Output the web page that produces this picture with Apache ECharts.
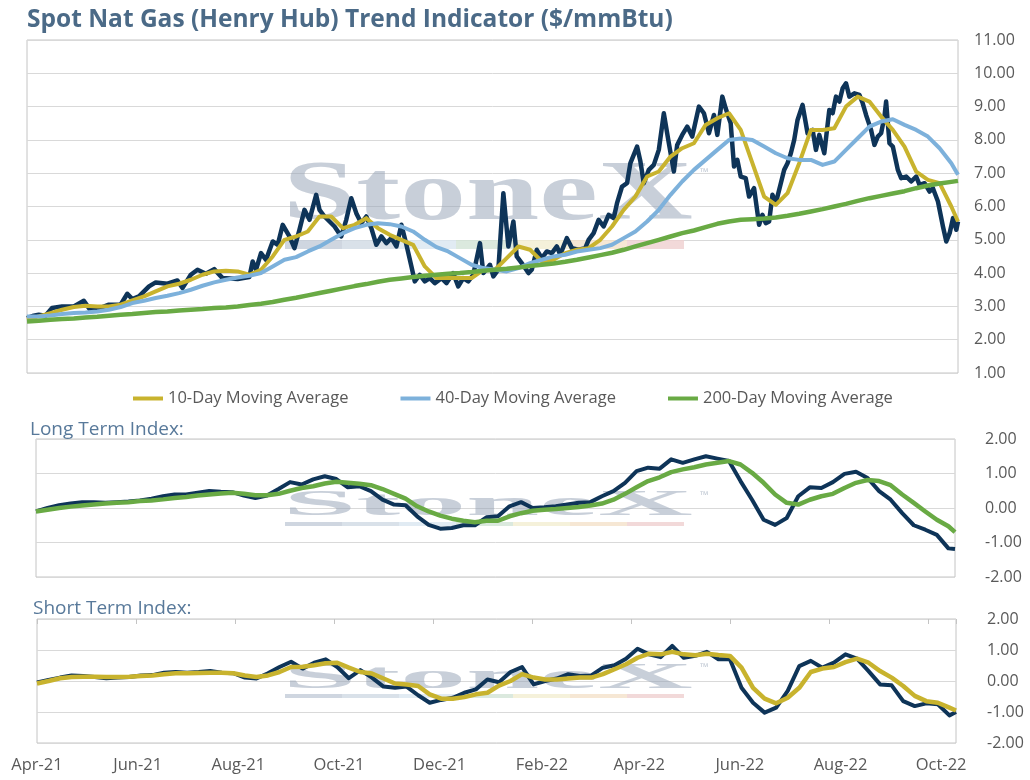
<!DOCTYPE html>
<html><head><meta charset="utf-8">
<script src="https://cdn.jsdelivr.net/npm/echarts@6/dist/echarts.min.js"></script>
<style>html,body{margin:0;padding:0;background:#fff}#c{width:1030px;height:780px}</style>
</head><body><div id="c"></div>
<script>
// x positions are days since 1 Apr 2021
const monthTickDays = [0,61,122,183,244,306,365,426,487,548];
const monthTickLabels = ['Apr-21','Jun-21','Aug-21','Oct-21','Dec-21','Feb-22','Apr-22','Jun-22','Aug-22','Oct-22'];
const lastDay = 557;

const spotDays = [0,4,7,11,15,21,28,34,38,42,49,56,60,63,67,73,77,84,90,93,98,102,107,112,117,126,133,135,137,140,143,147,150,153,157,160,163,166,169,173,175,178,181,184,188,191,194,197,200,203,206,209,212,215,218,221,224,227,230,232,235,238,241,244,248,251,255,258,261,264,267,271,273,277,279,282,285,288,291,293,296,300,302,305,308,311,314,317,319,323,326,330,334,336,339,342,345,348,351,353,356,359,361,365,367,369,372,375,378,381,384,387,389,392,395,398,402,405,408,411,413,416,418,421,423,425,427,430,432,435,438,440,442,444,446,448,451,453,455,457,459,461,464,467,470,472,474,477,480,482,484,486,488,490,492,495,498,500,502,505,507,509,511,513,514,516,518,521,523,526,529,532,534,537,540,542,545,548,550,552,554,556,557];
const spotPrice = [2.65,2.72,2.75,2.72,2.95,3.0,3.0,3.17,2.88,2.92,3.05,3.05,3.38,3.22,3.3,3.6,3.72,3.68,3.78,3.55,3.95,4.1,3.98,4.12,3.85,3.82,3.88,4.35,4.1,4.6,4.4,4.95,4.85,5.45,5.1,4.75,5.3,5.9,5.6,6.35,5.9,5.7,5.55,5.4,5.1,5.6,6.25,5.8,5.5,5.7,5.35,4.85,5.1,4.9,5.05,4.8,5.45,4.85,4.2,3.75,3.95,3.75,3.85,3.7,3.85,3.7,4.0,3.6,3.85,3.75,3.95,4.9,4.0,4.25,3.9,4.1,6.4,4.8,5.55,4.5,4.3,4.0,4.1,4.7,4.45,4.65,4.6,4.8,4.55,5.05,4.75,4.7,4.75,5.0,5.2,5.6,5.4,5.75,5.65,6.1,6.6,6.7,7.3,7.8,7.35,6.7,7.1,7.25,7.7,8.8,7.9,7.05,7.85,8.15,8.4,8.1,9.0,8.8,8.2,8.75,8.15,9.3,8.95,8.5,7.2,7.4,6.9,6.85,6.3,6.55,5.45,5.75,5.5,5.55,6.35,6.1,6.7,7.1,7.3,7.6,8.0,8.6,9.05,8.2,8.3,7.7,8.15,7.6,8.9,8.8,9.3,9.15,9.55,9.7,9.3,9.4,9.35,9.1,8.75,8.3,7.85,8.1,8.2,8.7,9.15,7.9,7.8,7.1,6.85,6.9,6.75,6.9,6.65,6.7,6.45,6.55,6.15,5.4,4.95,5.2,5.65,5.3,5.55];

// weekly readings (every 7 days from day 0) plus the last day
const weekDays = Array.from({length: 80}, (_, k) => k * 7).concat([lastDay]);
const ma10 = [2.6,2.7,2.8,2.9,2.98,3.02,3.0,3.0,3.05,3.18,3.3,3.45,3.6,3.68,3.8,3.95,4.05,4.07,4.05,3.95,4.1,4.5,5.0,5.1,5.25,5.7,5.7,5.35,5.45,5.65,5.35,5.15,5.0,4.85,4.2,3.85,3.85,3.85,3.85,4.1,4.1,4.45,4.8,4.7,4.35,4.4,4.6,4.7,4.75,5.0,5.4,5.9,6.3,6.9,7.05,7.5,7.75,7.9,8.45,8.65,8.8,8.3,7.3,6.3,6.05,6.4,7.3,8.3,8.3,8.35,9.0,9.3,9.15,8.7,8.3,7.8,7.05,6.8,6.7,6.0,5.55];
const ma40 = [2.7,2.7,2.73,2.77,2.8,2.82,2.85,2.9,2.98,3.1,3.17,3.25,3.32,3.4,3.5,3.62,3.72,3.8,3.87,3.92,4.0,4.2,4.4,4.48,4.65,4.8,5.0,5.2,5.35,5.45,5.5,5.47,5.4,5.25,5.0,4.78,4.65,4.45,4.25,4.15,4.1,4.05,4.15,4.3,4.4,4.5,4.55,4.65,4.7,4.75,4.85,5.05,5.25,5.55,5.9,6.35,6.75,7.1,7.4,7.7,8.0,8.04,8.0,7.8,7.6,7.45,7.4,7.4,7.25,7.35,7.7,8.05,8.4,8.55,8.62,8.45,8.3,8.1,7.75,7.3,6.95];
const ma200 = [2.55,2.57,2.6,2.62,2.64,2.67,2.69,2.72,2.75,2.77,2.8,2.83,2.85,2.88,2.9,2.92,2.95,2.97,3.0,3.04,3.08,3.13,3.2,3.26,3.33,3.4,3.47,3.54,3.61,3.67,3.74,3.8,3.84,3.88,3.92,3.95,3.98,4.0,4.03,4.07,4.1,4.13,4.17,4.21,4.25,4.29,4.34,4.4,4.47,4.54,4.61,4.7,4.8,4.9,5.0,5.1,5.2,5.28,5.38,5.48,5.55,5.6,5.62,5.64,5.67,5.72,5.78,5.85,5.92,6.0,6.08,6.17,6.25,6.32,6.39,6.46,6.55,6.63,6.69,6.74,6.77];
const longIndex = [-0.1,0.0,0.08,0.13,0.17,0.17,0.15,0.17,0.19,0.22,0.27,0.34,0.39,0.39,0.44,0.49,0.47,0.46,0.36,0.29,0.36,0.55,0.75,0.68,0.83,0.92,0.84,0.6,0.63,0.49,0.24,0.1,0.08,-0.24,-0.49,-0.6,-0.58,-0.5,-0.5,-0.27,-0.24,0.05,0.17,0.0,0.02,0.05,0.1,0.15,0.17,0.34,0.49,0.73,1.07,1.17,1.14,1.41,1.31,1.41,1.5,1.43,1.36,0.78,0.24,-0.34,-0.49,-0.29,0.34,0.6,0.58,0.75,0.99,1.05,0.87,0.49,0.24,-0.15,-0.5,-0.63,-0.78,-1.17,-1.19];
const longSignal = [-0.1,-0.05,0.0,0.04,0.07,0.1,0.13,0.15,0.17,0.2,0.22,0.25,0.29,0.32,0.36,0.39,0.42,0.44,0.41,0.37,0.37,0.41,0.5,0.58,0.63,0.71,0.76,0.73,0.7,0.66,0.55,0.41,0.27,0.05,-0.1,-0.22,-0.31,-0.37,-0.41,-0.37,-0.37,-0.24,-0.15,-0.08,-0.05,-0.03,0.0,0.03,0.07,0.13,0.24,0.41,0.6,0.78,0.89,1.04,1.12,1.18,1.26,1.31,1.36,1.26,1.02,0.73,0.39,0.15,0.1,0.24,0.34,0.41,0.58,0.73,0.81,0.78,0.66,0.39,0.15,-0.1,-0.34,-0.53,-0.7];
const shortIndex = [-0.05,0.03,0.11,0.18,0.16,0.13,0.09,0.11,0.13,0.18,0.19,0.27,0.29,0.27,0.29,0.32,0.27,0.25,0.11,0.08,0.25,0.45,0.62,0.4,0.59,0.7,0.45,0.09,0.35,0.11,-0.18,-0.22,-0.18,-0.46,-0.7,-0.61,-0.54,-0.38,-0.27,0.05,-0.04,0.29,0.45,-0.11,0.0,0.08,0.22,0.16,0.18,0.43,0.51,0.72,1.04,0.86,0.77,1.13,0.75,0.81,0.94,0.7,0.7,-0.22,-0.7,-1.02,-0.86,-0.32,0.48,0.65,0.43,0.59,0.86,0.72,0.32,-0.11,-0.14,-0.65,-0.81,-0.72,-0.75,-1.11,-1.0];
const shortSignal = [-0.08,0.0,0.09,0.13,0.14,0.14,0.13,0.13,0.14,0.16,0.18,0.22,0.25,0.25,0.26,0.27,0.27,0.25,0.18,0.13,0.18,0.29,0.45,0.46,0.51,0.57,0.59,0.43,0.29,0.24,0.08,-0.08,-0.11,-0.16,-0.43,-0.57,-0.57,-0.52,-0.43,-0.38,-0.15,0.0,0.22,0.11,0.05,0.05,0.08,0.11,0.11,0.22,0.38,0.54,0.75,0.88,0.86,0.94,0.86,0.83,0.88,0.84,0.81,0.43,-0.22,-0.57,-0.72,-0.54,-0.22,0.29,0.4,0.45,0.61,0.72,0.59,0.32,0.11,-0.16,-0.48,-0.65,-0.7,-0.86,-0.95];

const C = {navy:'#0e3458', gold:'#c8b32e', blue:'#7db1db', green:'#69aa44', grid:'#d9d9d9', border:'#c4c4c4', text:'#595959', title:'#4b6a87'};
const FONT = '"Open Sans", sans-serif';
const pair = (xs, ys) => xs.map((x, i) => [x, ys[i]]);

function xAx(grid, extra) {
  return Object.assign({type:'value', gridIndex:grid, min:0, max:lastDay,
    axisLine:{show:false}, axisTick:{show:false}, axisLabel:{show:false}, splitLine:{show:false}}, extra || {});
}
function yAx(grid, min, max, margin) {
  return {type:'value', gridIndex:grid, position:'right', min:min, max:max, interval:1,
    axisLine:{show:false}, axisTick:{show:false},
    splitLine:{lineStyle:{color:C.grid, width:1}},
    axisLabel:{formatter:v => v.toFixed(2), color:C.text, fontSize:16, fontFamily:FONT, align:'left', margin:margin}};
}
function line(name, xi, data, color, width) {
  return {name:name, type:'line', xAxisIndex:xi, yAxisIndex:xi > 2 ? 2 : xi, data:data, showSymbol:false, symbol:'none',
    lineStyle:{color:color, width:width, join:'round'}, itemStyle:{color:color}, emphasis:{disabled:true}};
}
function watermark(cy, sy, barY, barH, tmY) {
  const segs = ['#c3ccd8','#d0d9e3','#d9e6f0','#d2e4d6','#f3eed1','#f4e1c9','#efcfcf'];
  const els = [{type:'text', x:283, y:cy, scaleX:1.55, scaleY:sy, z:1, silent:true,
    style:{text:'StoneX', x:0, y:0, font:'bold 85px "Liberation Serif", serif', fill:'rgba(150,163,182,0.52)', align:'left', verticalAlign:'middle'}},
    {type:'text', x:700, y:tmY, z:1, silent:true, style:{text:'\u2122', font:'11px '+FONT, fill:'rgba(150,163,182,0.6)', align:'left', verticalAlign:'middle'}}];
  segs.forEach((c, i) => els.push({type:'rect', z:1, silent:true, shape:{x:285 + i*57, y:barY, width:57, height:barH}, style:{fill:c, opacity:0.8}}));
  return els;
}

const chart = echarts.init(document.getElementById('c'), null, {renderer:'canvas'});
chart.setOption({
  animation:false,
  backgroundColor:'#fff',
  title:[
    {text:'Spot Nat Gas (Henry Hub) Trend Indicator ($/mmBtu)', left:22, top:3, textStyle:{fontSize:24.5, fontWeight:'bold', color:C.title, fontFamily:FONT}},
    {text:'Long Term Index:', left:25, top:415, textStyle:{fontSize:19, fontWeight:'normal', color:'#58799a', fontFamily:FONT}},
    {text:'Short Term Index:', left:28, top:594, textStyle:{fontSize:19, fontWeight:'normal', color:'#58799a', fontFamily:FONT}}
  ],
  legend:{data:['10-Day Moving Average','40-Day Moving Average','200-Day Moving Average'], left:128, top:385,
    icon:'rect', itemWidth:30, itemHeight:4, itemGap:52, textStyle:{fontSize:16.5, color:C.text, fontFamily:FONT}},
  grid:[
    {left:27, top:40, width:931, height:333, show:true, borderColor:C.border, borderWidth:1},
    {left:36, top:439, width:919, height:138, show:true, borderColor:C.border, borderWidth:1},
    {left:37, top:619, width:919, height:124, show:true, borderColor:C.border, borderWidth:1}
  ],
  xAxis:[
    xAx(0), xAx(1),
    xAx(2, {position:'bottom', axisLabel:{show:true, customValues:monthTickDays, color:C.text, fontSize:16.5, fontFamily:FONT, margin:14,
      formatter:v => monthTickLabels[monthTickDays.indexOf(v)] || ''}}),
    xAx(2, {position:'top', interval:60, axisTick:{show:true, inside:true, length:5, lineStyle:{color:C.border}}})
  ],
  yAxis:[yAx(0, 1, 11, 16), yAx(1, -2, 2, 30), yAx(2, -2, 2, 31)],
  graphic:[].concat(watermark(197, 1, 240, 9, 173), watermark(506, 0.43, 522, 4, 496), watermark(679, 0.43, 694, 4, 668)),
  series:[
    line('Spot', 0, pair(spotDays, spotPrice), C.navy, 4.5),
    line('10-Day Moving Average', 0, pair(weekDays, ma10), C.gold, 4),
    line('40-Day Moving Average', 0, pair(weekDays, ma40), C.blue, 4),
    line('200-Day Moving Average', 0, pair(weekDays, ma200), C.green, 4.5),
    line('Long Term Index', 1, pair(weekDays, longIndex), C.navy, 4),
    line('Long Term Signal', 1, pair(weekDays, longSignal), C.green, 4.5),
    line('Short Term Index', 2, pair(weekDays, shortIndex), C.navy, 4),
    line('Short Term Signal', 2, pair(weekDays, shortSignal), C.gold, 4.5)
  ]
});
</script></body></html>
